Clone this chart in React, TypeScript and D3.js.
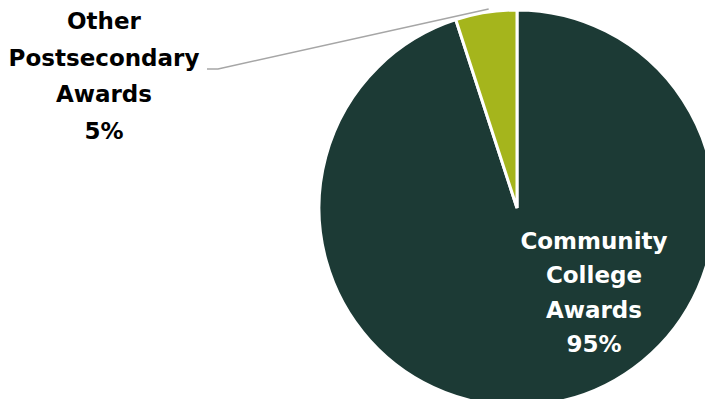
import React from "react";
import * as d3 from "d3";

const categories = ["Community College Awards", "Other Postsecondary Awards"];
const values = [95, 5];
const labelLines = [
  ["Community", "College", "Awards", "95%"],
  ["Other", "Postsecondary", "Awards", "5%"],
];
const colors = ["#1C3A35", "#A5B51C"];

export default function App() {
  const W = 705, H = 399;
  const cx = 517, cy = 208, r = 198;
  const pie = d3.pie<number>().sort(null).value((d) => d);
  const arcs = pie(values);
  const arc = d3.arc<d3.PieArcDatum<number>>().innerRadius(0).outerRadius(r);
  const font = "Futura, 'Century Gothic', 'DejaVu Sans', sans-serif";

  const small = arcs[1];
  const a = small.startAngle + (small.endAngle - small.startAngle) * 0.55;
  const ex = cx + Math.sin(a) * (r + 3);
  const ey = cy - Math.cos(a) * (r + 3);

  return (
    <svg width={W} height={H} style={{ position: "absolute", left: 0, top: 0 }}>
      <g transform={`translate(${cx},${cy})`}>
        {arcs.map((d, i) => (
          <path key={categories[i]} d={arc(d) || ""} fill={colors[i]} stroke="#ffffff" strokeWidth={3} strokeLinejoin="miter" />
        ))}
      </g>
      <polyline
        points={`${207},${69} ${218},${69} ${ex},${ey}`}
        fill="none"
        stroke="#A6A6A6"
        strokeWidth={1.5}
      />
      <text fontFamily={font} fontWeight="bold" fontSize={23} fill="#ffffff" textAnchor="middle">
        {labelLines[0].map((t, i) => (
          <tspan key={i} x={594} y={249 + i * 34.3}>{t}</tspan>
        ))}
      </text>
      <text fontFamily={font} fontWeight="bold" fontSize={23} fill="#000000" textAnchor="middle">
        {labelLines[1].map((t, i) => (
          <tspan key={i} x={104} y={29 + i * 36.7}>{t}</tspan>
        ))}
      </text>
    </svg>
  );
}
